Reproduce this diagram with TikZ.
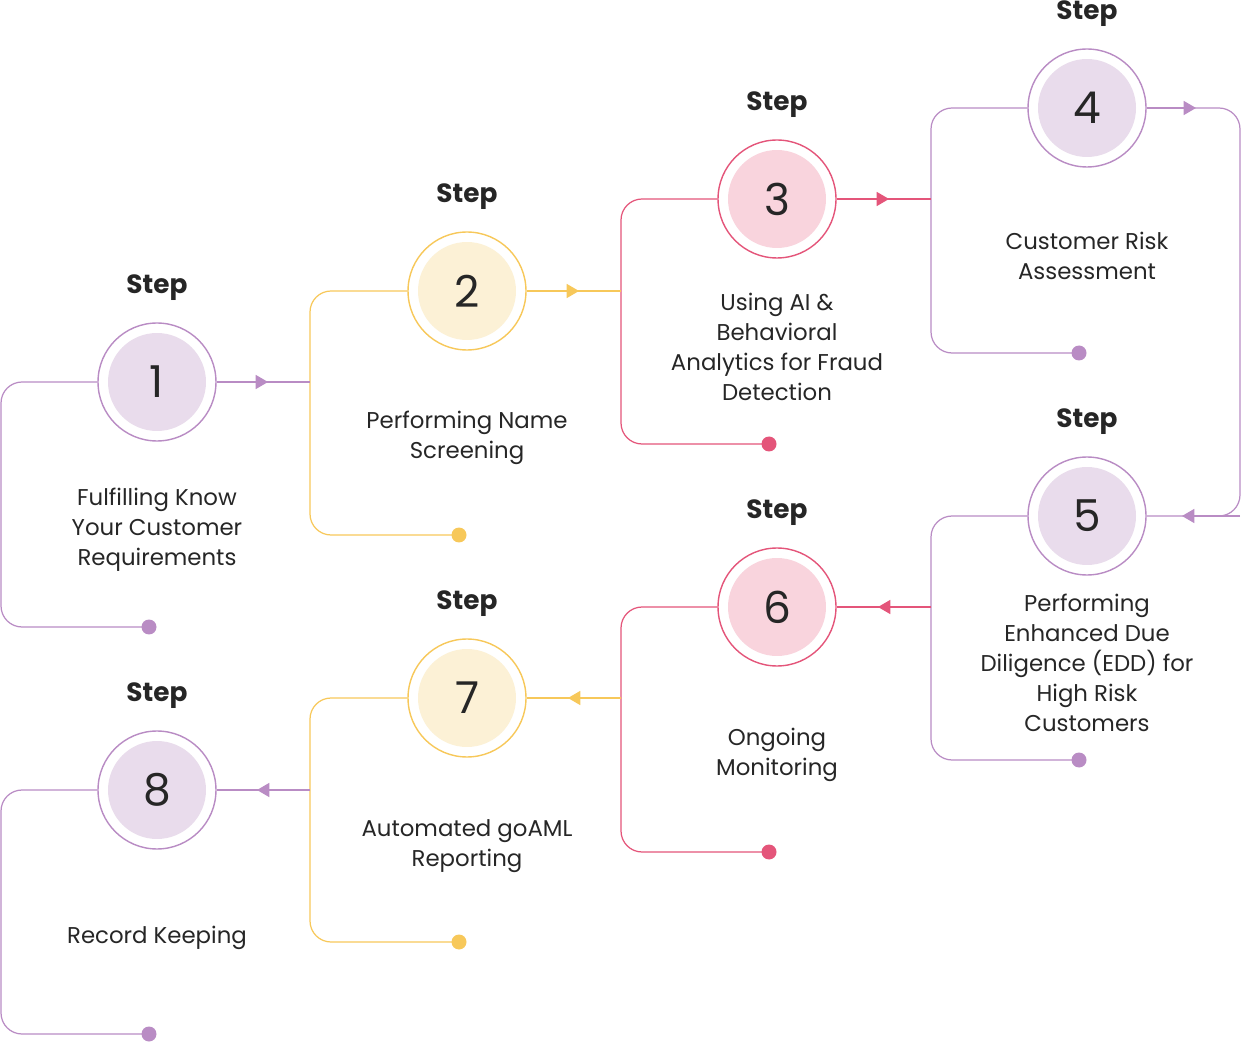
\documentclass[tikz,border=0pt]{standalone}
\usepackage{fontspec}
\setmainfont{Poppins}
\usetikzlibrary{arrows.meta,positioning}
\definecolor{purpLine}{HTML}{B98CC4}
\definecolor{purpFill}{HTML}{E9DCEC}
\definecolor{yellLine}{HTML}{F7C85A}
\definecolor{yellFill}{HTML}{FCF1D6}
\definecolor{pinkLine}{HTML}{E4557A}
\definecolor{pinkFill}{HTML}{F9D4DD}
\tikzset{
  ring/.style={circle, draw=#1Line, line width=0.8pt, fill=white,
    minimum size=2.36cm, inner sep=0pt},
  core/.style={circle, fill=#1Fill, minimum size=1.96cm, inner sep=0pt,
    font=\fontsize{25}{25}\selectfont, text=black!85},
  stepLabel/.style={font=\fontsize{15}{15}\selectfont\bfseries, text=black!85},
  stepText/.style={align=center, font=\fontsize{13}{17}\selectfont, text=black!85},
  link/.style={draw=#1Line, line width=0.7pt},
  dot/.style={circle, fill=#1Line, minimum size=0.3cm, inner sep=0pt}
}
\begin{document}
\begin{tikzpicture}[x=0.02cm, y=-0.02cm, >={Triangle[length=7pt,width=8pt]}]
  \useasboundingbox (0,0) rectangle (1241,1043);
  % steps: number / x / y / colour / bracket x / bracket bottom / dot x
  \foreach \n/\x/\y/\c/\bx/\by/\dx in {
      1/157/382/purp/1/627/149, 2/467/291/yell/310/535/459,
      3/777/199/pink/621/444/769, 4/1087/108/purp/931/353/1079,
      5/1087/516/purp/931/760/1079, 6/777/607/pink/621/852/769,
      7/467/698/yell/310/942/459, 8/157/790/purp/1/1034/149}{
    \node[ring=\c] (s\n) at (\x,\y) {};
    \node[core=\c] at (s\n) {\n};
    \node[stepLabel] at (\x,\y-94) {Step};
    \node[dot=\c] (d\n) at (\dx,\by) {};
    \draw[link=\c, rounded corners=12pt]
      (s\n.west) -- (\bx,\y) -- (\bx,\by) -- (d\n.center);
  }
  % descriptions
  \node[stepText] at (157,530) {Fulfilling Know\\Your Customer\\Requirements};
  \node[stepText] at (467,438) {Performing Name\\Screening};
  \node[stepText] at (777,347) {Using AI \&\\Behavioral\\Analytics for Fraud\\Detection};
  \node[stepText] at (1087,256) {Customer Risk\\Assessment};
  \node[stepText] at (1087,663) {Performing\\Enhanced Due\\Diligence (EDD) for\\High Risk\\Customers};
  \node[stepText] at (777,755) {Ongoing\\Monitoring};
  \node[stepText] at (467,846) {Automated goAML\\Reporting};
  \node[stepText] at (157,938) {Record Keeping};
  % links between steps
  \draw[link=purp] (s1.east) -- (310,382);
  \draw[link=purp, ->] (s1.east) -- (268,382);
  \draw[link=yell] (s2.east) -- (621,291);
  \draw[link=yell, ->] (s2.east) -- (579,291);
  \draw[link=pink] (s3.east) -- (931,199);
  \draw[link=pink, ->] (s3.east) -- (889,199);
  \draw[link=purp, rounded corners=12pt] (s4.east) -- (1240,108) -- (1240,516) -- (s5.east);
  \draw[link=purp, ->] (s4.east) -- (1196,108);
  \draw[link=purp, ->] (1240,516) -- (1182,516);
  \draw[link=pink] (931,607) -- (s6.east);
  \draw[link=pink, ->] (931,607) -- (878,607);
  \draw[link=yell] (621,698) -- (s7.east);
  \draw[link=yell, ->] (621,698) -- (568,698);
  \draw[link=purp] (310,790) -- (s8.east);
  \draw[link=purp, ->] (310,790) -- (257,790);
\end{tikzpicture}
\end{document}
